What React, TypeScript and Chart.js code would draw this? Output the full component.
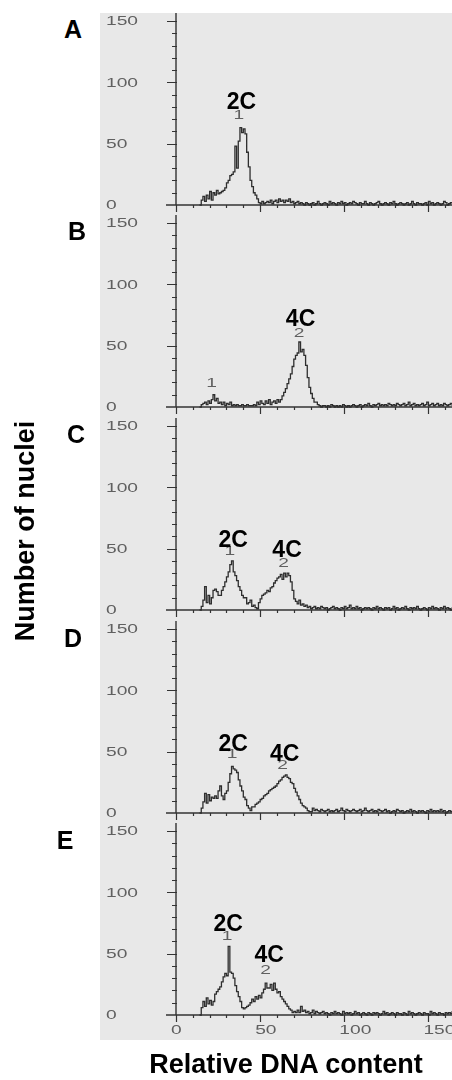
import React, { useEffect, useRef } from "react";
import { Chart, registerables } from "chart.js";

Chart.register(...registerables);

// ---------- data ----------
const CHANNEL_START = 14; // first histogram channel (relative DNA content)
const X_MAX = 164;
const Y_MAX = 156.5;
const xTickLabels = [0, 50, 100, 150];
const yTickLabels = [0, 50, 100, 150];
const MINOR_STEP = 10;

const panelLetters = ["A", "B", "C", "D", "E"];

const countsA = [
  0,
  4, 7, 3, 8, 5, 11, 4, 10, 8, 12,
  9, 10, 11, 12, 14, 18, 20, 24, 25, 27,
  48, 30, 52, 63, 59, 62, 58, 43, 31, 20,
  15, 10, 8, 5, 2, 1, 3, 1, 2, 3,
  2, 4, 1, 3, 4, 2, 5, 3, 4, 2,
  4, 3, 5, 2, 3, 1, 2, 3, 1, 2,
  1, 0, 2, 1, 0, 1, 2, 0, 1, 3,
  1, 0, 1, 2, 1, 0, 3, 1, 2, 1,
  0, 2, 1, 3, 1, 2, 0, 1, 2, 1,
  3, 2, 1, 0, 2, 1, 1, 3, 1, 0,
  2, 1, 0, 1, 2, 3, 1, 0, 1, 2,
  1, 0, 2, 1, 3, 1, 0, 1, 2, 1,
  0, 1, 2, 0, 1, 3, 1, 0, 2, 1,
  1, 0, 1, 2, 0, 3, 1, 2, 0, 1,
  2, 1, 0, 1, 3, 2, 0, 1, 2, 1,
];

const countsB = [
  0,
  2, 3, 4, 2, 5, 3, 6, 10, 5, 7,
  3, 4, 2, 4, 1, 3, 2, 4, 1, 2,
  1, 2, 1, 1, 2, 1, 1, 2, 1, 1,
  1, 2, 1, 4, 2, 5, 3, 2, 5, 3,
  6, 2, 4, 5, 3, 6, 4, 6, 9, 12,
  15, 19, 23, 27, 33, 39, 42, 44, 53, 45,
  47, 42, 34, 24, 16, 11, 7, 4, 4, 2,
  1, 0, 1, 1, 0, 1, 0, 2, 1, 0,
  1, 0, 1, 0, 2, 1, 0, 1, 0, 1,
  2, 1, 0, 1, 2, 0, 1, 2, 1, 3,
  1, 0, 2, 1, 2, 3, 1, 2, 1, 2,
  1, 3, 2, 1, 2, 1, 3, 2, 1, 2,
  3, 1, 2, 4, 1, 2, 3, 1, 2, 1,
  2, 3, 1, 2, 4, 1, 2, 3, 1, 2,
  3, 1, 2, 1, 3, 2, 1, 2, 3, 1,
];

const countsC = [
  0,
  3, 8, 19, 6, 12, 5, 10, 16, 17, 15,
  12, 12, 16, 19, 23, 27, 31, 37, 40, 31,
  28, 24, 19, 16, 12, 10, 10, 5, 6, 8,
  3, 4, 2, 1, 6, 9, 12, 13, 14, 16,
  15, 18, 19, 22, 24, 26, 27, 29, 25, 30,
  27, 30, 28, 23, 16, 9, 7, 5, 8, 4,
  5, 3, 4, 2, 3, 1, 2, 3, 1, 2,
  1, 3, 2, 1, 2, 0, 1, 2, 3, 1,
  2, 1, 0, 2, 1, 3, 1, 2, 4, 1,
  2, 1, 3, 1, 2, 0, 1, 2, 1, 2,
  1, 0, 2, 1, 3, 1, 2, 1, 0, 2,
  1, 2, 0, 1, 3, 1, 2, 0, 1, 2,
  1, 3, 1, 0, 2, 1, 2, 1, 3, 1,
  0, 1, 2, 1, 0, 2, 1, 3, 1, 2,
  1, 0, 2, 1, 3, 1, 2, 1, 0, 2,
];

const countsD = [
  0,
  4, 9, 16, 8, 15, 10, 13, 12, 14, 12,
  18, 22, 14, 11, 16, 18, 25, 32, 38, 36,
  35, 33, 27, 22, 18, 13, 11, 6, 4, 2,
  5, 5, 7, 8, 9, 11, 12, 14, 15, 16,
  18, 19, 20, 21, 22, 24, 26, 27, 29, 30,
  31, 29, 28, 25, 24, 20, 17, 14, 11, 8,
  6, 5, 4, 2, 1, 1, 4, 2, 3, 2,
  1, 3, 2, 1, 2, 3, 1, 2, 1, 2,
  3, 1, 2, 4, 2, 1, 3, 2, 1, 2,
  3, 2, 1, 2, 3, 1, 2, 4, 2, 1,
  2, 3, 1, 2, 1, 3, 2, 1, 2, 3,
  1, 2, 0, 1, 2, 1, 3, 2, 1, 2,
  0, 1, 2, 1, 3, 1, 2, 1, 0, 2,
  1, 2, 1, 0, 2, 1, 3, 1, 2, 1,
  2, 1, 3, 1, 2, 0, 1, 2, 1, 2,
];

const countsE = [
  0,
  6, 11, 7, 14, 9, 12, 8, 11, 17, 19,
  21, 23, 27, 31, 34, 32, 56, 35, 34, 30,
  24, 19, 15, 11, 6, 5, 6, 7, 8, 10,
  13, 11, 15, 13, 16, 14, 18, 21, 26, 22,
  22, 25, 20, 26, 21, 18, 19, 15, 13, 11,
  9, 7, 5, 4, 2, 3, 2, 4, 2, 7,
  3, 4, 2, 3, 1, 2, 4, 1, 3, 2,
  1, 2, 3, 1, 2, 1, 0, 2, 1, 3,
  1, 2, 1, 0, 3, 1, 2, 1, 2, 0,
  1, 3, 1, 2, 0, 1, 2, 1, 0, 2,
  1, 0, 2, 1, 2, 1, 0, 1, 3, 1,
  2, 0, 1, 2, 1, 0, 2, 1, 1, 0,
  2, 1, 0, 3, 1, 2, 1, 0, 1, 2,
  1, 0, 2, 1, 1, 0, 3, 1, 2, 1,
  0, 2, 1, 1, 0, 2, 1, 2, 1, 3,
];

// peak annotations (data coordinates)
const peakNamesA = [{ x: 38.9, y: 84, text: "2C" }];
const peakNamesB = [{ x: 74, y: 72.3, text: "4C" }];
const peakNamesC = [{ x: 34, y: 57.6, text: "2C" }, { x: 66, y: 49.5, text: "4C" }];
const peakNamesD = [{ x: 34, y: 56.8, text: "2C" }, { x: 64.6, y: 48.6, text: "4C" }];
const peakNamesE = [{ x: 31, y: 74.7, text: "2C" }, { x: 55.4, y: 48.9, text: "4C" }];

const peakMarksA = [{ x: 37.4, y: 73, text: "1" }];
const peakMarksB = [{ x: 73.1, y: 60, text: "2" }, { x: 21.2, y: 18.7, text: "1" }];
const peakMarksC = [{ x: 32, y: 47.5, text: "1" }, { x: 64, y: 38, text: "2" }];
const peakMarksD = [{ x: 33.4, y: 47.3, text: "1" }, { x: 63.3, y: 38.5, text: "2" }];
const peakMarksE = [{ x: 30.4, y: 63.8, text: "1" }, { x: 53.2, y: 36.1, text: "2" }];

const yAxisTitle = "Number of nuclei";
const xAxisTitle = "Relative DNA content";

// ---------- layout / style ----------
const PANEL_ZERO_Y = [205, 407, 610, 813, 1015];
const LETTER_POS = [
  [73, 29],
  [77, 231],
  [76, 434],
  [73, 638],
  [65, 840],
];
const CANVAS_LEFT = 100;
const CANVAS_W = 352;
const CANVAS_H = 232;
const PAD_TOP = 8;
const PAD_BOTTOM = 32;
const PAD_LEFT = 76;
const AXIS_COLOR = "#333333";
const LINE_COLOR = "#2e2e2e";
const TICK_TEXT_COLOR = "#606060";
const STRETCH = 1.6;
const TICK_FONT = "12px 'Liberation Sans', Arial, sans-serif";
const BOLD_FAMILY = "'Liberation Sans', Arial, Helvetica, sans-serif";

const panels = [
  { counts: countsA, names: peakNamesA, marks: peakMarksA },
  { counts: countsB, names: peakNamesB, marks: peakMarksB },
  { counts: countsC, names: peakNamesC, marks: peakMarksC },
  { counts: countsD, names: peakNamesD, marks: peakMarksD },
  { counts: countsE, names: peakNamesE, marks: peakMarksE },
];

function stretchText(ctx: CanvasRenderingContext2D, text: string, x: number, y: number, align: CanvasTextAlign) {
  ctx.save();
  ctx.translate(x, y);
  ctx.scale(STRETCH, 1);
  ctx.textAlign = align;
  ctx.textBaseline = "middle";
  ctx.fillText(text, 0, 0);
  ctx.restore();
}

function makeDecor(panel: any, showXLabels: boolean) {
  return {
    id: "panelDecor",
    beforeDatasetsDraw(chart: any) {
      const { ctx, chartArea } = chart;
      const xs = chart.scales.x;
      const ys = chart.scales.y;
      const x0 = xs.getPixelForValue(0);
      const y0 = ys.getPixelForValue(0);
      ctx.save();
      ctx.strokeStyle = AXIS_COLOR;
      ctx.lineWidth = 1.4;
      ctx.beginPath();
      ctx.moveTo(x0, ys.getPixelForValue(Y_MAX));
      ctx.lineTo(x0, y0);
      ctx.moveTo(x0 - 10, y0);
      ctx.lineTo(xs.getPixelForValue(X_MAX), y0);
      ctx.stroke();
      ctx.lineWidth = 1.2;
      ctx.beginPath();
      for (let v = MINOR_STEP; v <= 150; v += MINOR_STEP) {
        const py = Math.round(ys.getPixelForValue(v)) + 0.5;
        const major = yTickLabels.includes(v);
        ctx.moveTo(x0 - (major ? 9 : 4), py);
        ctx.lineTo(x0 + 1, py);
      }
      for (let v = 0; v <= X_MAX; v += MINOR_STEP) {
        const px = Math.round(xs.getPixelForValue(v)) + 0.5;
        const major = xTickLabels.includes(v);
        ctx.moveTo(px, y0);
        ctx.lineTo(px, y0 + (major ? 7 : 3));
      }
      ctx.stroke();
      ctx.fillStyle = TICK_TEXT_COLOR;
      ctx.font = TICK_FONT;
      for (const v of yTickLabels) {
        stretchText(ctx, String(v), chartArea.left - 70, ys.getPixelForValue(v) + 1, "left");
      }
      if (showXLabels) {
        for (const v of xTickLabels) {
          stretchText(ctx, String(v), xs.getPixelForValue(v) - 5, y0 + 16, "left");
        }
      }
      ctx.restore();
    },
    afterDatasetsDraw(chart: any) {
      const { ctx } = chart;
      const xs = chart.scales.x;
      const ys = chart.scales.y;
      ctx.save();
      ctx.fillStyle = TICK_TEXT_COLOR;
      ctx.font = TICK_FONT;
      for (const m of panel.marks) {
        stretchText(ctx, m.text, xs.getPixelForValue(m.x), ys.getPixelForValue(m.y), "center");
      }
      ctx.fillStyle = "#000";
      ctx.font = `bold 23px ${BOLD_FAMILY}`;
      ctx.textAlign = "center";
      ctx.textBaseline = "middle";
      for (const n of panel.names) {
        ctx.fillText(n.text, xs.getPixelForValue(n.x), ys.getPixelForValue(n.y) + 1);
      }
      ctx.restore();
    },
  };
}

export default function App() {
  const refs = useRef<(HTMLCanvasElement | null)[]>([]);

  useEffect(() => {
    const charts = panels.map((panel, i) => {
      const canvas = refs.current[i] as HTMLCanvasElement;
      const data = panel.counts.map((c, k) => ({ x: CHANNEL_START + k, y: c }));
      return new Chart(canvas, {
        type: "line",
        data: {
          datasets: [
            {
              data,
              borderColor: LINE_COLOR,
              borderWidth: 1.3,
              pointRadius: 0,
              stepped: true,
              fill: false,
              tension: 0,
              clip: 6,
            } as any,
          ],
        },
        options: {
          animation: false,
          responsive: false,
          events: [],
          layout: { padding: { left: PAD_LEFT, top: PAD_TOP, right: 0, bottom: PAD_BOTTOM } },
          plugins: { legend: { display: false }, tooltip: { enabled: false } },
          scales: {
            x: { type: "linear", min: 0, max: X_MAX, display: false },
            y: { type: "linear", min: 0, max: Y_MAX, display: false },
          },
        },
        plugins: [makeDecor(panel, i === panels.length - 1)],
      });
    });
    return () => charts.forEach((c) => c.destroy());
  }, []);

  const bold = (size: number) => ({ fontFamily: BOLD_FAMILY, fontWeight: 700, fontSize: size, lineHeight: 1, color: "#000", whiteSpace: "nowrap" as const });

  return (
    <div style={{ position: "absolute", left: 0, top: 0, width: 452, height: 1080, overflow: "hidden", background: "#fff" }}>
      <div style={{ position: "absolute", left: 100, top: 13, width: 352, height: 1027, background: "#e8e8e8" }} />
      {panels.map((_, i) => (
        <canvas
          key={i}
          ref={(el) => { refs.current[i] = el; }}
          width={CANVAS_W}
          height={CANVAS_H}
          style={{ position: "absolute", left: CANVAS_LEFT, top: PANEL_ZERO_Y[i] - (CANVAS_H - PAD_BOTTOM), width: CANVAS_W, height: CANVAS_H }}
        />
      ))}
      {panelLetters.map((l, i) => (
        <div key={l} style={{ ...bold(25), position: "absolute", left: LETTER_POS[i][0], top: LETTER_POS[i][1], transform: "translate(-50%, -50%)" }}>
          {l}
        </div>
      ))}
      <div style={{ ...bold(27), position: "absolute", left: 25, top: 531, transform: "translate(-50%, -50%) rotate(-90deg)" }}>
        {yAxisTitle}
      </div>
      <div style={{ ...bold(27), position: "absolute", left: 286, top: 1064, transform: "translate(-50%, -50%)" }}>
        {xAxisTitle}
      </div>
    </div>
  );
}
